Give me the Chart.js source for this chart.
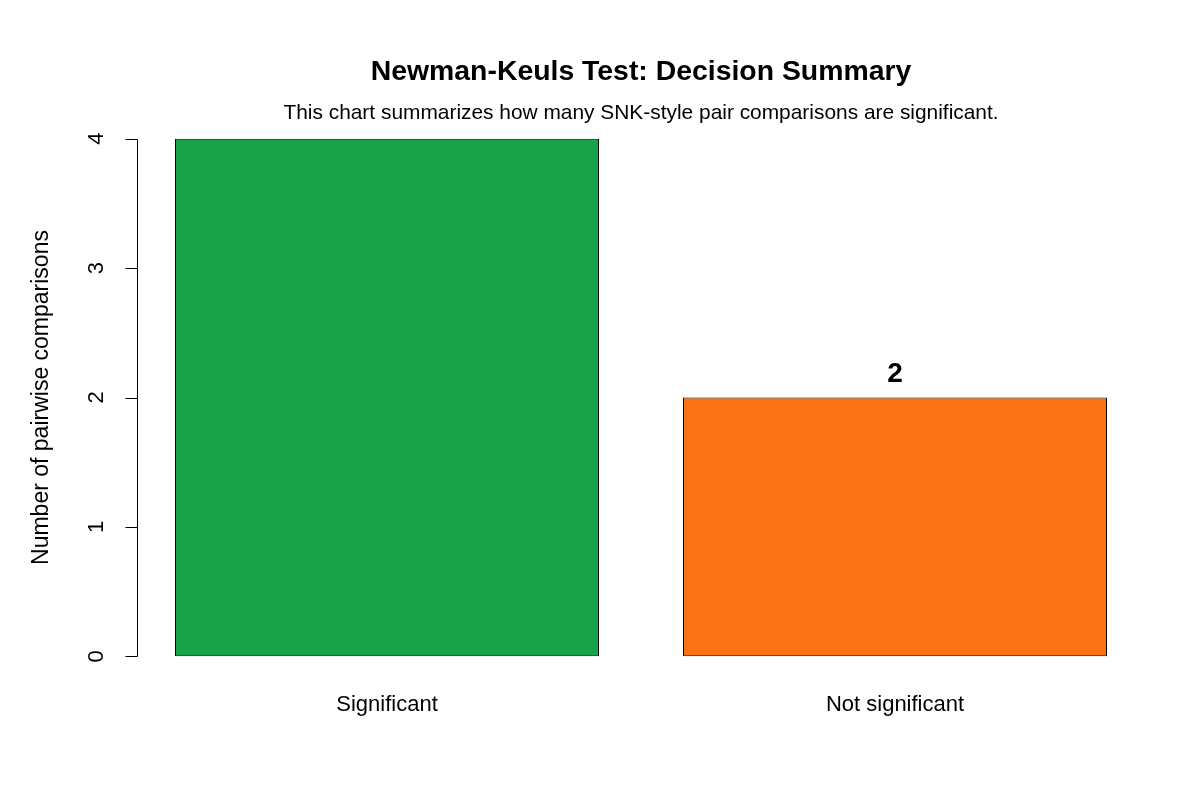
<!DOCTYPE html>
<html>
<head>
<meta charset="utf-8">
<title>Newman-Keuls Test: Decision Summary</title>
<script src="https://cdn.jsdelivr.net/npm/chart.js@4/dist/chart.umd.min.js"></script>
<style>
  html, body { margin: 0; padding: 0; background: #fff; }
  #wrap { width: 1200px; height: 800px; }
</style>
</head>
<body>
<div id="wrap"><canvas id="snk-chart" width="1200" height="800"></canvas></div>
<script>
// Chart data
const categories = ['Significant', 'Not significant'];
const counts = [4, 2];
const barColors = ['#18A34A', '#F97316'];
const yTicks = [0, 1, 2, 3, 4];

const titleText = 'Newman-Keuls Test: Decision Summary';
const subtitleText = 'This chart summarizes how many SNK-style pair comparisons are significant.';
const yAxisTitle = 'Number of pairwise comparisons';

const FONT = '"Liberation Sans", Arial, sans-serif';

// R-style axes, titles and value labels drawn on top of the bars
const baseGraphics = {
  id: 'baseGraphics',
  afterDatasetsDraw(chart) {
    const { ctx, chartArea, scales } = chart;
    const x = scales.x;
    const y = scales.y;
    ctx.save();

    // value labels above bars; R drops the ones falling outside the plot region
    ctx.fillStyle = '#000';
    ctx.font = 'bold 28px ' + FONT;
    ctx.textAlign = 'center';
    ctx.textBaseline = 'middle';
    counts.forEach((v, i) => {
      const ly = y.getPixelForValue(v) - 23;
      if (ly - 10 < chartArea.top) return;
      ctx.fillText(String(v), x.getPixelForValue(i), ly);
    });

    // y axis line + ticks
    const axisX = chartArea.left + 4;
    ctx.strokeStyle = '#000';
    ctx.lineWidth = 1;
    ctx.beginPath();
    ctx.moveTo(axisX + 0.5, Math.round(y.getPixelForValue(yTicks[0])) + 0.5);
    ctx.lineTo(axisX + 0.5, Math.round(y.getPixelForValue(yTicks[yTicks.length - 1])) + 0.5);
    yTicks.forEach((t) => {
      const py = Math.round(y.getPixelForValue(t)) + 0.5;
      ctx.moveTo(axisX + 0.5, py);
      ctx.lineTo(axisX - 12 + 0.5, py);
    });
    ctx.stroke();

    // y tick labels, rotated
    ctx.font = '22px ' + FONT;
    yTicks.forEach((t) => {
      ctx.save();
      ctx.translate(axisX - 40, y.getPixelForValue(t));
      ctx.rotate(-Math.PI / 2);
      ctx.fillText(String(t), 0, 0);
      ctx.restore();
    });

    // y axis title
    ctx.save();
    ctx.translate(42, (y.getPixelForValue(0) + y.getPixelForValue(4)) / 2);
    ctx.rotate(-Math.PI / 2);
    ctx.font = '23px ' + FONT;
    ctx.fillText(yAxisTitle, 0, 0);
    ctx.restore();

    // category labels
    ctx.font = '22px ' + FONT;
    categories.forEach((c, i) => {
      ctx.fillText(c, x.getPixelForValue(i), 705);
    });

    // title + subtitle
    const cx = (chartArea.left + 4 + chartArea.right - 4) / 2;
    ctx.font = 'bold 28.4px ' + FONT;
    ctx.fillText(titleText, cx, 72);
    ctx.font = '20.9px ' + FONT;
    ctx.fillText(subtitleText, cx, 113);

    ctx.restore();
  }
};

const ctx = document.getElementById('snk-chart').getContext('2d');
const snkChart = new Chart(ctx, {
  type: 'bar',
  data: {
    labels: categories,
    datasets: [{
      label: 'Comparisons',
      data: counts,
      backgroundColor: barColors,
      borderColor: '#000',
      borderWidth: 1,
      borderSkipped: false,
      barPercentage: 1,
      categoryPercentage: 0.8346,
    }],
  },
  options: {
    responsive: false,
    animation: false,
    devicePixelRatio: 1,
    layout: {
      padding: { left: 133, right: 51, top: 118, bottom: 123 },
    },
    plugins: {
      legend: { display: false },
      title: { display: false },
      tooltip: { enabled: false },
    },
    scales: {
      x: { display: false, offset: true },
      y: { display: false, min: -0.16, max: 4.16 },
    },
  },
  plugins: [baseGraphics],
});
</script>
</body>
</html>
